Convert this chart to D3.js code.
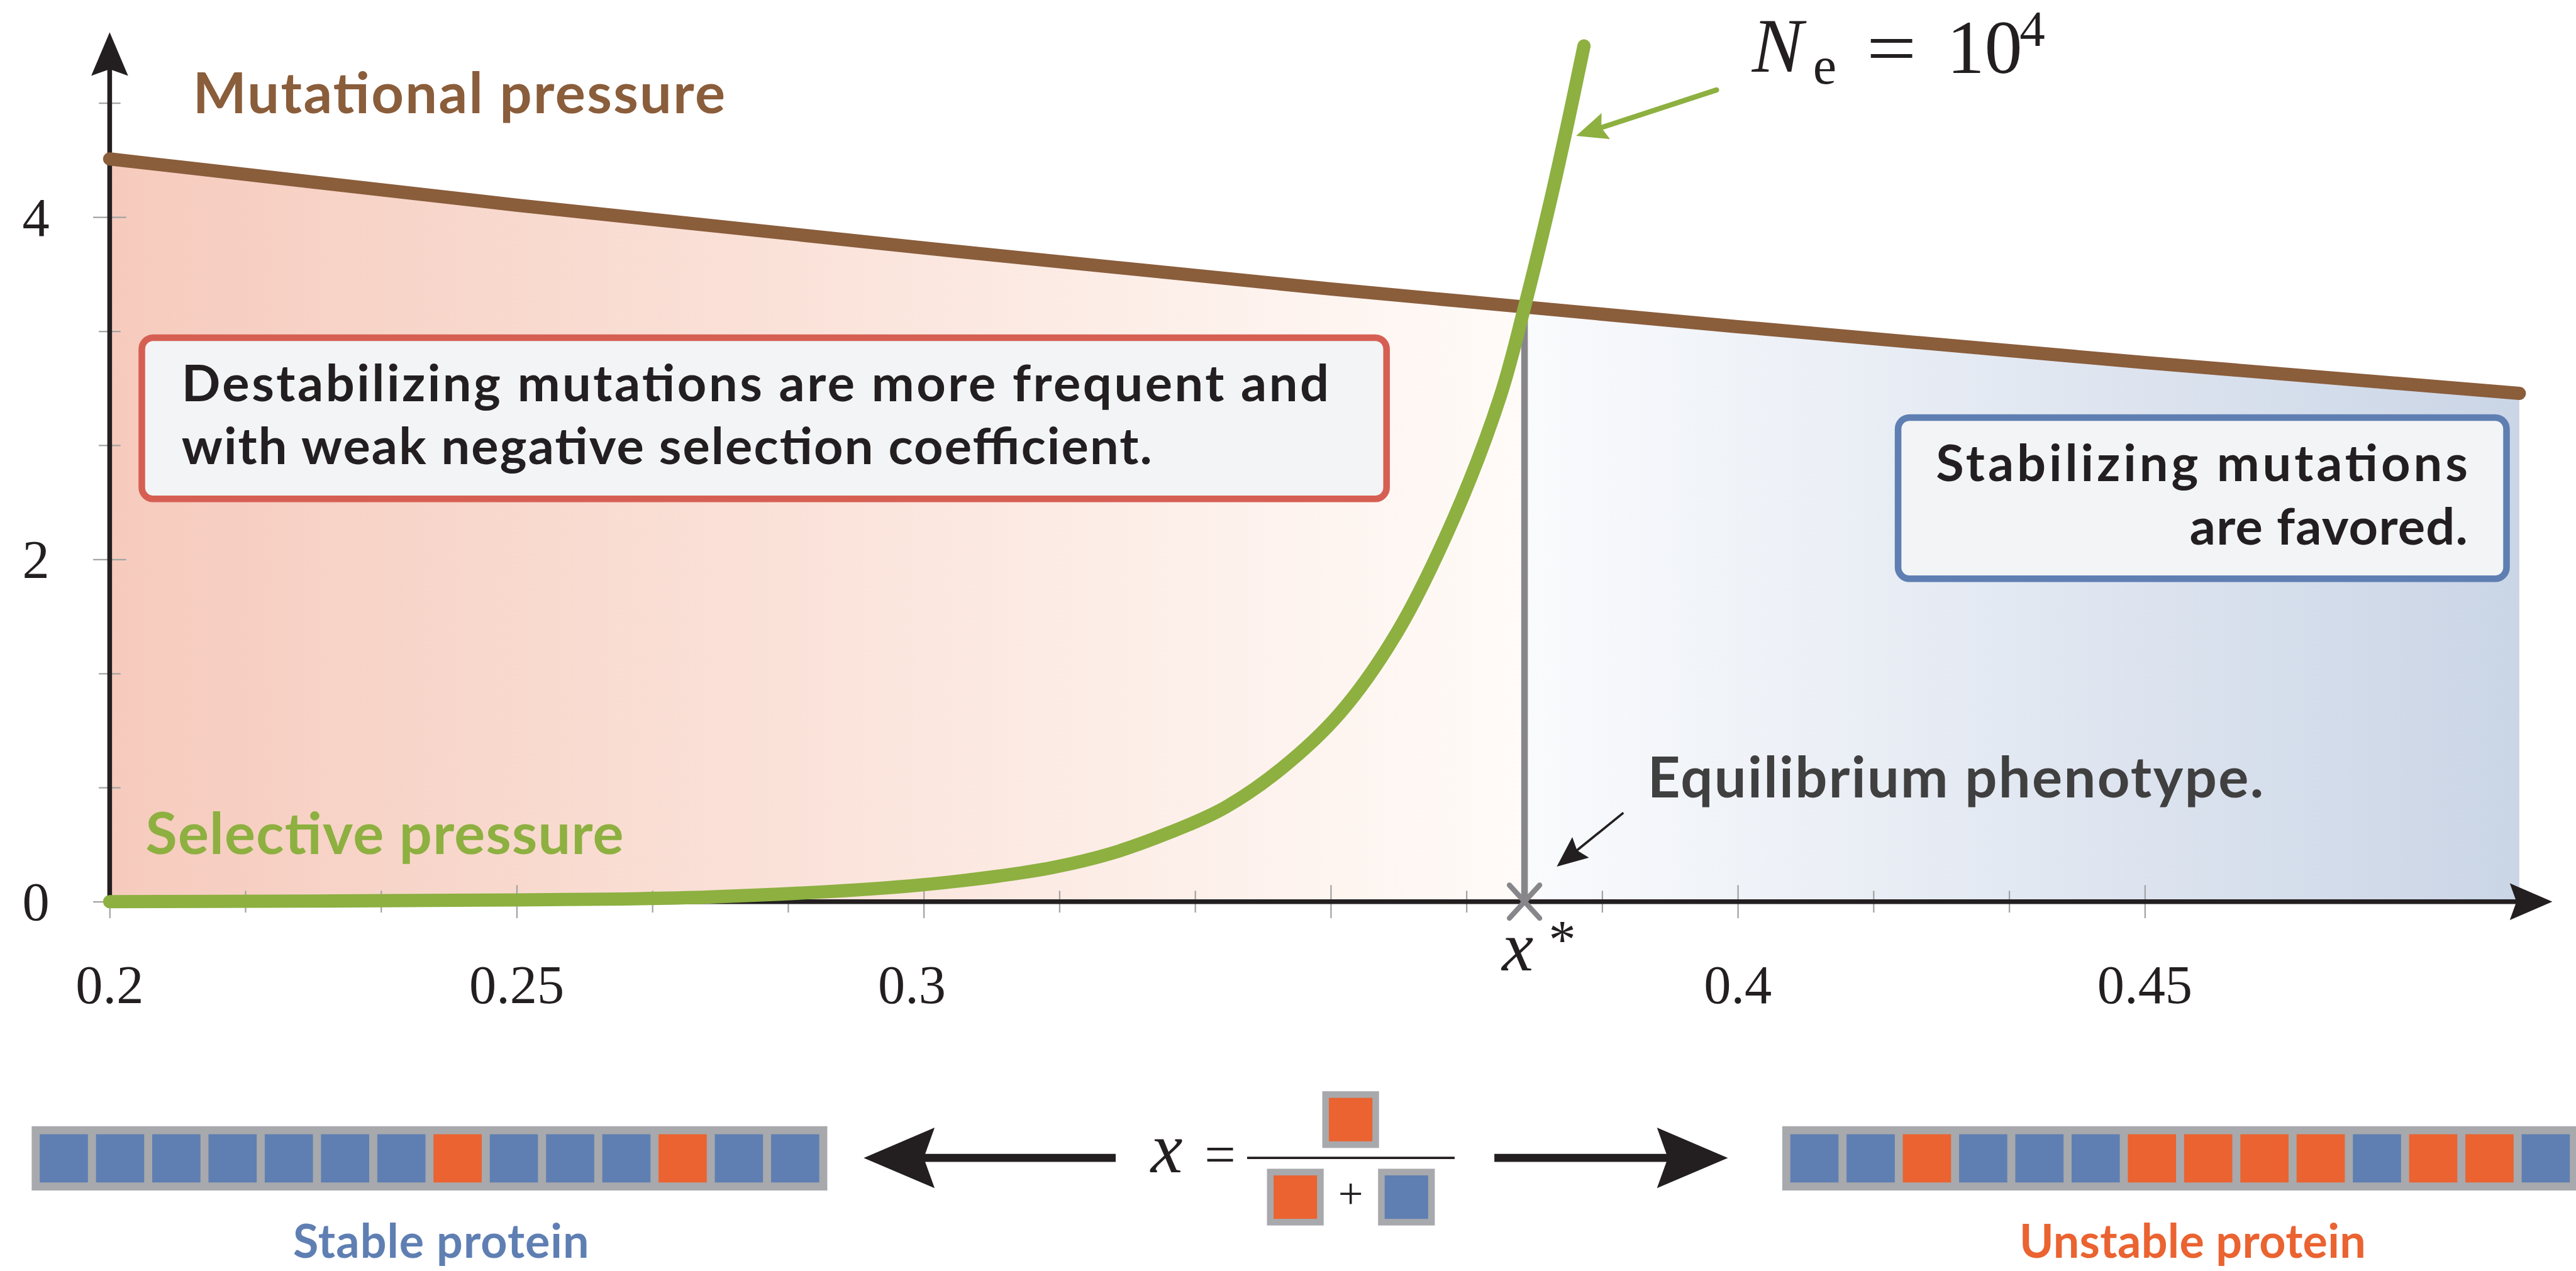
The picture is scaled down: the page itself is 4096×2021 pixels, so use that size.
<!DOCTYPE html>
<html>
<head>
<meta charset="utf-8">
<script src="https://cdn.jsdelivr.net/npm/d3@7"></script>
<style>
  html, body { margin: 0; padding: 0; background: #ffffff; overflow: hidden; }
  svg { display: block; }
</style>
</head>
<body>
<svg id="chart" width="4096" height="2021" viewBox="0 0 5449 2688"></svg>
<script>
// Mutational pressure (brown) along the phenotype axis
const mutX = [0.2, 0.25, 0.3, 0.35, 0.3738, 0.4, 0.45, 0.496];
const mutY = [4.34, 4.07, 3.82, 3.58, 3.475, 3.36, 3.15, 2.97];

// Selective pressure (green) for Ne = 10^4
const selX = [0.2, 0.25, 0.2736, 0.2983, 0.3088, 0.3159, 0.3229, 0.3300, 0.3370,
              0.3440, 0.3511, 0.3581, 0.3651, 0.3708, 0.3738, 0.3771, 0.3792, 0.3811];
const selY = [0.00, 0.01, 0.027, 0.092, 0.147, 0.20, 0.28, 0.40, 0.55,
              0.78, 1.10, 1.57, 2.24, 2.95, 3.475, 4.12, 4.57, 5.00];

// Equilibrium phenotype where both pressures balance
const xStar = 0.3738;

// Axis ticks
const xTicks = [0.2, 0.25, 0.3, 0.35, 0.4, 0.45];
const xTickLabels = ["0.2", "0.25", "0.3", "", "0.4", "0.45"];
const yTicks = [0, 2, 4];
const yTickLabels = ["0", "2", "4"];

// Residue sequences: S = stabilizing (blue), U = destabilizing (orange)
const stableProtein   = ["S","S","S","S","S","S","S","U","S","S","S","U","S","S"];
const unstableProtein = ["S","S","U","S","S","S","U","U","U","U","S","U","U","S"];

const C = {
  brown: "#8a5d3b", green: "#8db040", axis: "#231f20", tick: "#a3a3a3",
  grey: "#87878b", red: "#d65f53", blue: "#5f7fb3", orange: "#ea6331",
  strip: "#a8a9ac", boxFill: "#f2f4f5", ink: "#231f20", dark: "#404040"
};
const SANS = "Lato, 'Open Sans', sans-serif";
const SERIF = "'Liberation Serif', 'DejaVu Serif', serif";

const svg = d3.select("#chart");
const x = d3.scaleLinear().domain([0.2, 0.5]).range([232, 5398]);
const y = d3.scaleLinear().domain([0, 4]).range([1907, 459]);

const mutData = mutX.map((v, i) => [v, mutY[i]]);
const selData = selX.map((v, i) => [v, selY[i]]);

// ---- background gradient under the mutational pressure curve ----
const xa = x(mutX[0]), xb = x(mutX[mutX.length - 1]);
const split = (x(xStar) - xa) / (xb - xa);
const grad = svg.append("defs").append("linearGradient")
  .attr("id", "regionGrad").attr("gradientUnits", "userSpaceOnUse")
  .attr("x1", xa).attr("x2", xb).attr("y1", 0).attr("y2", 0);
[[0, "#f6cbbd"], [split, "#fffbf8"], [split, "#fafbfd"], [1, "#cad5e6"]]
  .forEach(([o, c]) => grad.append("stop").attr("offset", o).attr("stop-color", c));

svg.append("path").datum(mutData)
  .attr("d", d3.area().x(d => x(d[0])).y0(y(0)).y1(d => y(d[1])).curve(d3.curveMonotoneX))
  .attr("fill", "url(#regionGrad)");

// ---- ticks ----
const xMinor = d3.range(0.2, 0.46, 0.05 / 3).filter(v => xTicks.every(t => Math.abs(t - v) > 1e-6));
const yMinor = d3.range(0, 5.0, 2 / 3).filter(v => yTicks.every(t => Math.abs(t - v) > 1e-6));

function styleTicks(g) {
  g.select(".domain").remove();
  g.selectAll("text").remove();
  g.selectAll("line").attr("stroke", C.tick).attr("stroke-width", 3);
}
svg.append("g").attr("transform", `translate(0,${y(0) - 35})`)
  .call(d3.axisBottom(x).tickValues(xTicks).tickSize(70).tickFormat("")).call(styleTicks);
svg.append("g").attr("transform", `translate(0,${y(0) - 23})`)
  .call(d3.axisBottom(x).tickValues(xMinor).tickSize(46).tickFormat("")).call(styleTicks);
svg.append("g").attr("transform", `translate(${x(0.2) + 35},0)`)
  .call(d3.axisLeft(y).tickValues(yTicks).tickSize(70).tickFormat("")).call(styleTicks);
svg.append("g").attr("transform", `translate(${x(0.2) + 23},0)`)
  .call(d3.axisLeft(y).tickValues(yMinor).tickSize(46).tickFormat("")).call(styleTicks);

// ---- arrows ----
function arrow(g, x1, y1, x2, y2, o) {
  const dx = x2 - x1, dy = y2 - y1, len = Math.hypot(dx, dy);
  const ux = dx / len, uy = dy / len, px = -uy, py = ux;
  const bx = x2 - ux * o.L, by = y2 - uy * o.L;
  const nx = x2 - ux * (o.L - o.N), ny = y2 - uy * (o.L - o.N);
  g.append("line").attr("x1", x1).attr("y1", y1)
    .attr("x2", nx + ux * 2).attr("y2", ny + uy * 2)
    .attr("stroke", o.color).attr("stroke-width", o.width)
    .attr("stroke-linecap", o.cap || "butt");
  g.append("path")
    .attr("d", `M${x2},${y2}L${bx + px * o.W},${by + py * o.W}L${nx},${ny}L${bx - px * o.W},${by - py * o.W}Z`)
    .attr("fill", o.color);
}

const axes = svg.append("g");
arrow(axes, x(0.2), y(0), x(0.5) + 1, y(0), { width: 10, L: 90, W: 39, N: 14, color: C.axis });
arrow(axes, x(0.2), y(0), x(0.2), y(5.08), { width: 10, L: 92, W: 39, N: 14, color: C.axis });

// ---- equilibrium marker ----
const yCross = y(mutY[mutX.indexOf(xStar)]);
svg.append("line").attr("x1", x(xStar)).attr("x2", x(xStar))
  .attr("y1", yCross).attr("y2", y(0))
  .attr("stroke", C.grey).attr("stroke-width", 14);
const mk = svg.append("g").attr("stroke", C.grey).attr("stroke-width", 11).attr("stroke-linecap", "round");
mk.append("line").attr("x1", x(xStar) - 32).attr("y1", y(0) - 35).attr("x2", x(xStar) + 32).attr("y2", y(0) + 35);
mk.append("line").attr("x1", x(xStar) - 32).attr("y1", y(0) + 35).attr("x2", x(xStar) + 32).attr("y2", y(0) - 35);

// ---- curves ----
svg.append("path").datum(mutData)
  .attr("d", d3.line().x(d => x(d[0])).y(d => y(d[1])).curve(d3.curveMonotoneX))
  .attr("fill", "none").attr("stroke", C.brown).attr("stroke-width", 28).attr("stroke-linecap", "round");
svg.append("path").datum(selData)
  .attr("d", d3.line().x(d => x(d[0])).y(d => y(d[1])).curve(d3.curveCatmullRom.alpha(0.5)))
  .attr("fill", "none").attr("stroke", C.green).attr("stroke-width", 28).attr("stroke-linecap", "round");

// ---- text helpers ----
function fitText(sel, target) {
  const w = sel.node().getComputedTextLength();
  sel.attr("textLength", target).attr("lengthAdjust", w > target ? "spacingAndGlyphs" : "spacing");
  return sel;
}
function sans(txt, px, py, size, fill, target, anchor) {
  const t = svg.append("text").attr("x", px).attr("y", py)
    .attr("font-family", SANS).attr("font-weight", 700).attr("font-size", size)
    .attr("fill", fill).attr("text-anchor", anchor || "start").text(txt);
  return fitText(t, target);
}
function serif(txt, px, py, size, opts = {}) {
  const t = svg.append("text").attr("x", px).attr("y", py)
    .attr("font-family", SERIF).attr("font-size", size)
    .attr("font-style", opts.italic ? "italic" : "normal")
    .attr("text-anchor", opts.anchor || "start").attr("fill", C.ink).text(txt);
  if (opts.width) t.attr("textLength", opts.width).attr("lengthAdjust", "spacingAndGlyphs");
  return t;
}

// ---- tick labels ----
xTicks.forEach((v, i) => {
  if (!xTickLabels[i]) return;
  // the 0.3 label sits a touch left of its tick
  const shift = v === 0.3 ? -25 : 0;
  serif(xTickLabels[i], x(v) + shift, 2121, 115, { anchor: "middle" });
});
yTicks.forEach((v, i) => serif(yTickLabels[i], 76, y(v) + 39, 115, { anchor: "middle" }));

// x* label
serif("x", 3177, 2053, 150, { italic: true });
serif("*", 3276, 2026, 115);

// Ne = 10^4
serif("N", 3706, 152, 162, { italic: true });
serif("e", 3835, 176, 112);
serif("=", 4001, 155, 160, { anchor: "middle", width: 106 });
serif("10", 4118, 154, 160);
serif("4", 4272, 97, 108);

// ---- curve labels ----
sans("Mutational pressure", 408, 239, 120, C.brown, 1126);
sans("Selective pressure", 308, 1806, 122, C.green, 1011);

// ---- annotation boxes ----
svg.append("rect").attr("x", 300).attr("y", 714).attr("width", 2633).attr("height", 341)
  .attr("rx", 24).attr("fill", C.boxFill).attr("stroke", C.red).attr("stroke-width", 14);
svg.append("rect").attr("x", 4015).attr("y", 883).attr("width", 1287).attr("height", 341)
  .attr("rx", 24).attr("fill", C.boxFill).attr("stroke", C.blue).attr("stroke-width", 14);

sans("Destabilizing mutations are more frequent and", 384, 848, 108, C.ink, 2427);
sans("with weak negative selection coefficient.", 384, 982, 108, C.ink, 2053);
sans("Stabilizing mutations", 5220, 1018, 108, C.ink, 1125, "end");
sans("are favored.", 5220, 1152, 108, C.ink, 588, "end");

sans("Equilibrium phenotype.", 3485, 1686, 120, C.dark, 1303);

// pointer arrows
arrow(svg.append("g"), 3631, 190, 3334, 287, { width: 11, L: 66, W: 29, N: 10, color: C.green, cap: "round" });
arrow(svg.append("g"), 3434, 1719, 3293, 1833, { width: 5, L: 65, W: 28, N: 10, color: C.axis });

// ---- protein strips ----
const residueColor = r => (r === "U" ? C.orange : C.blue);
function strip(seq, x0) {
  const g = svg.append("g");
  const pad = 17, side = 102, total = seq.length * side + (seq.length + 1) * pad;
  g.append("rect").attr("x", x0).attr("y", 2382).attr("width", total).attr("height", side + 2 * pad).attr("fill", C.strip);
  const band = d3.scaleBand().domain(d3.range(seq.length))
    .range([x0 + pad, x0 + total - pad]).paddingInner(pad / (side + pad)).paddingOuter(0);
  g.selectAll("rect.res").data(seq).join("rect").attr("class", "res")
    .attr("x", (d, i) => band(i)).attr("y", 2382 + pad)
    .attr("width", band.bandwidth()).attr("height", side)
    .attr("fill", residueColor);
}
strip(stableProtein, 67);
strip(unstableProtein, 3770);

sans("Stable protein", 933, 2660, 98, C.blue, 626, "middle");
sans("Unstable protein", 4638, 2660, 98, C.orange, 733, "middle");

// ---- x = U / (U + S) ----
arrow(svg.append("g"), 2360, 2449, 1827, 2449, { width: 17, L: 150, W: 64, N: 23, color: C.axis });
arrow(svg.append("g"), 3161, 2449, 3655, 2449, { width: 17, L: 150, W: 64, N: 23, color: C.axis });

serif("x", 2434, 2479, 152, { italic: true });
serif("=", 2581, 2481, 115, { anchor: "middle", width: 66 });
svg.append("line").attr("x1", 2638).attr("x2", 3077).attr("y1", 2449).attr("y2", 2449)
  .attr("stroke", C.ink).attr("stroke-width", 5);
function residue(cx, cy, r) {
  svg.append("rect").attr("x", cx - 60).attr("y", cy - 60).attr("width", 120).attr("height", 120).attr("fill", C.strip);
  svg.append("rect").attr("x", cx - 46).attr("y", cy - 46).attr("width", 92).attr("height", 92).attr("fill", residueColor(r));
}
residue(2857, 2368, "U");
residue(2740, 2532, "U");
residue(2975, 2532, "S");
serif("+", 2857, 2556, 94, { anchor: "middle" });
</script>
</body>
</html>
